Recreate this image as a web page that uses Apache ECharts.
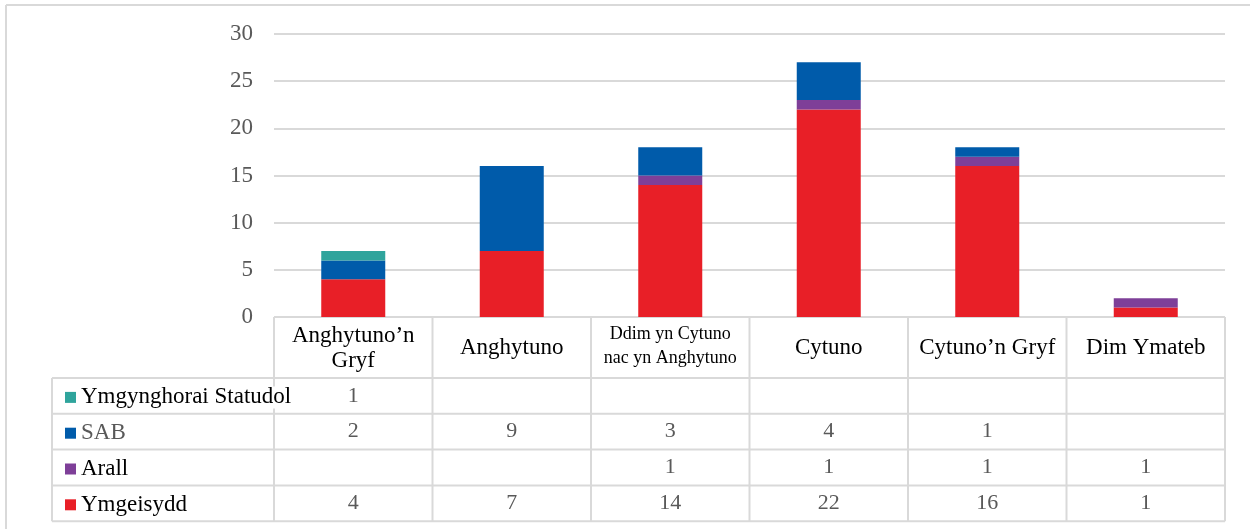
<!DOCTYPE html>
<html>
<head>
    <meta charset="utf-8">
    <title>Ymatebion</title>
    <style>
        html, body { margin: 0; padding: 0; background: #fff; }
        #container { width: 1250px; height: 529px; }
    </style>
</head>
<body>
<div id="container"></div>
<script src="https://cdn.jsdelivr.net/npm/echarts@6/dist/echarts.min.js"></script>
<script>
    var categories = ["Anghytuno’n\nGryf", "Anghytuno", "Ddim yn Cytuno\nnac yn Anghytuno", "Cytuno", "Cytuno’n Gryf", "Dim Ymateb"];
    var ymgeisydd = [4, 7, 14, 22, 16, 1];
    var arall = [null, null, 1, 1, 1, 1];
    var sab = [2, 9, 3, 4, 1, null];
    var statudol = [1, null, null, null, null, null];
    var yTicks = [0, 5, 10, 15, 20, 25, 30];

    var seriesNames = ["Ymgynghorai Statudol", "SAB", "Arall", "Ymgeisydd"];
    var seriesData = [statudol, sab, arall, ymgeisydd];
    var colors = ["#2FA49C", "#005BAA", "#7E3F98", "#E81F27"];

    // table layout
    var gridLeft = 274, gridRight = 1225, axisY = 317;
    var headBottom = 378, rowH = 35.8, legendLeft = 52;
    var lineColor = "#d9d9d9";
    var serif = "Times New Roman, Liberation Serif, serif";

    var myChart = echarts.init(document.getElementById("container"));

    // value rows of the data table, one hidden axis per series
    var xAxes = [{
        type: 'category',
        data: categories,
        axisLine: {show: false},
        axisTick: {show: false},
        axisLabel: {
            interval: 0,
            margin: 31,
            verticalAlign: 'middle',
            fontFamily: serif,
            fontSize: 23,
            lineHeight: 25,
            color: '#000',
            formatter: function (value) {
                if (value.indexOf('Ddim') === 0) {
                    return '{s|' + value.replace('\n', '}\n{s|') + '}';
                }
                return value;
            },
            rich: {
                s: {fontFamily: serif, fontSize: 18, lineHeight: 24, color: '#000', padding: [0, 0, 4, 0]}
            }
        }
    }];
    seriesData.forEach(function (arr, i) {
        xAxes.push({
            type: 'category',
            position: 'bottom',
            data: categories,
            offset: headBottom - axisY + rowH * i + rowH / 2,
            axisLine: {show: false},
            axisTick: {show: false},
            axisLabel: {
                interval: 0,
                margin: 0,
                verticalAlign: 'middle',
                fontFamily: serif,
                fontSize: 22,
                color: '#595959',
                formatter: function (v, idx) {
                    return arr[idx] == null ? '' : String(arr[idx]);
                }
            }
        });
    });

    var legends = seriesNames.map(function (name, i) {
        return {
            left: 60,
            top: headBottom + rowH * i + rowH / 2 - 15,
            itemWidth: 11,
            itemHeight: 11,
            itemGap: 5,
            icon: 'rect',
            selectedMode: false,
            data: [{name: name}],
            textStyle: {
                fontFamily: serif,
                fontSize: 23,
                lineHeight: 22,
                color: name === 'SAB' ? '#595959' : '#000',
                backgroundColor: '#fff'
            }
        };
    });

    var graphics = [];
    function hline(y, x1, x2) {
        graphics.push({type: 'line', shape: {x1: x1, y1: y, x2: x2, y2: y}, style: {stroke: lineColor, lineWidth: 2}});
    }
    function vline(x, y1, y2) {
        graphics.push({type: 'line', shape: {x1: x, y1: y1, x2: x, y2: y2}, style: {stroke: lineColor, lineWidth: 2}});
    }
    // outer frame
    hline(5, 6, 1250);
    vline(6, 5, 529);
    // table
    var tableBottom = headBottom + rowH * 4;
    hline(axisY, gridLeft, gridRight);
    for (var r = 0; r <= 4; r++) {
        hline(headBottom + rowH * r, legendLeft, gridRight);
    }
    var colW = (gridRight - gridLeft) / categories.length;
    for (var c = 0; c <= categories.length; c++) {
        vline(gridLeft + colW * c, axisY, tableBottom);
    }
    vline(legendLeft, headBottom, tableBottom);

    var series = [];
    for (var k = seriesNames.length - 1; k >= 0; k--) {
        series.push({
            name: seriesNames[k],
            type: 'bar',
            stack: 'total',
            barWidth: 64,
            data: seriesData[k],
            itemStyle: {color: colors[k]},
            z: 5
        });
    }

    var option = {
        animation: false,
        color: colors,
        grid: {left: gridLeft, right: 1250 - gridRight, top: 34, bottom: 529 - axisY, containLabel: false},
        legend: legends,
        xAxis: xAxes,
        yAxis: {
            type: 'value',
            min: yTicks[0],
            max: yTicks[yTicks.length - 1],
            interval: 5,
            axisLine: {show: false},
            axisTick: {show: false},
            axisLabel: {margin: 21, fontFamily: serif, fontSize: 23, color: '#595959'},
            splitLine: {lineStyle: {color: lineColor, width: 2}}
        },
        graphic: graphics,
        series: series
    };

    myChart.setOption(option);
</script>
</body>
</html>
